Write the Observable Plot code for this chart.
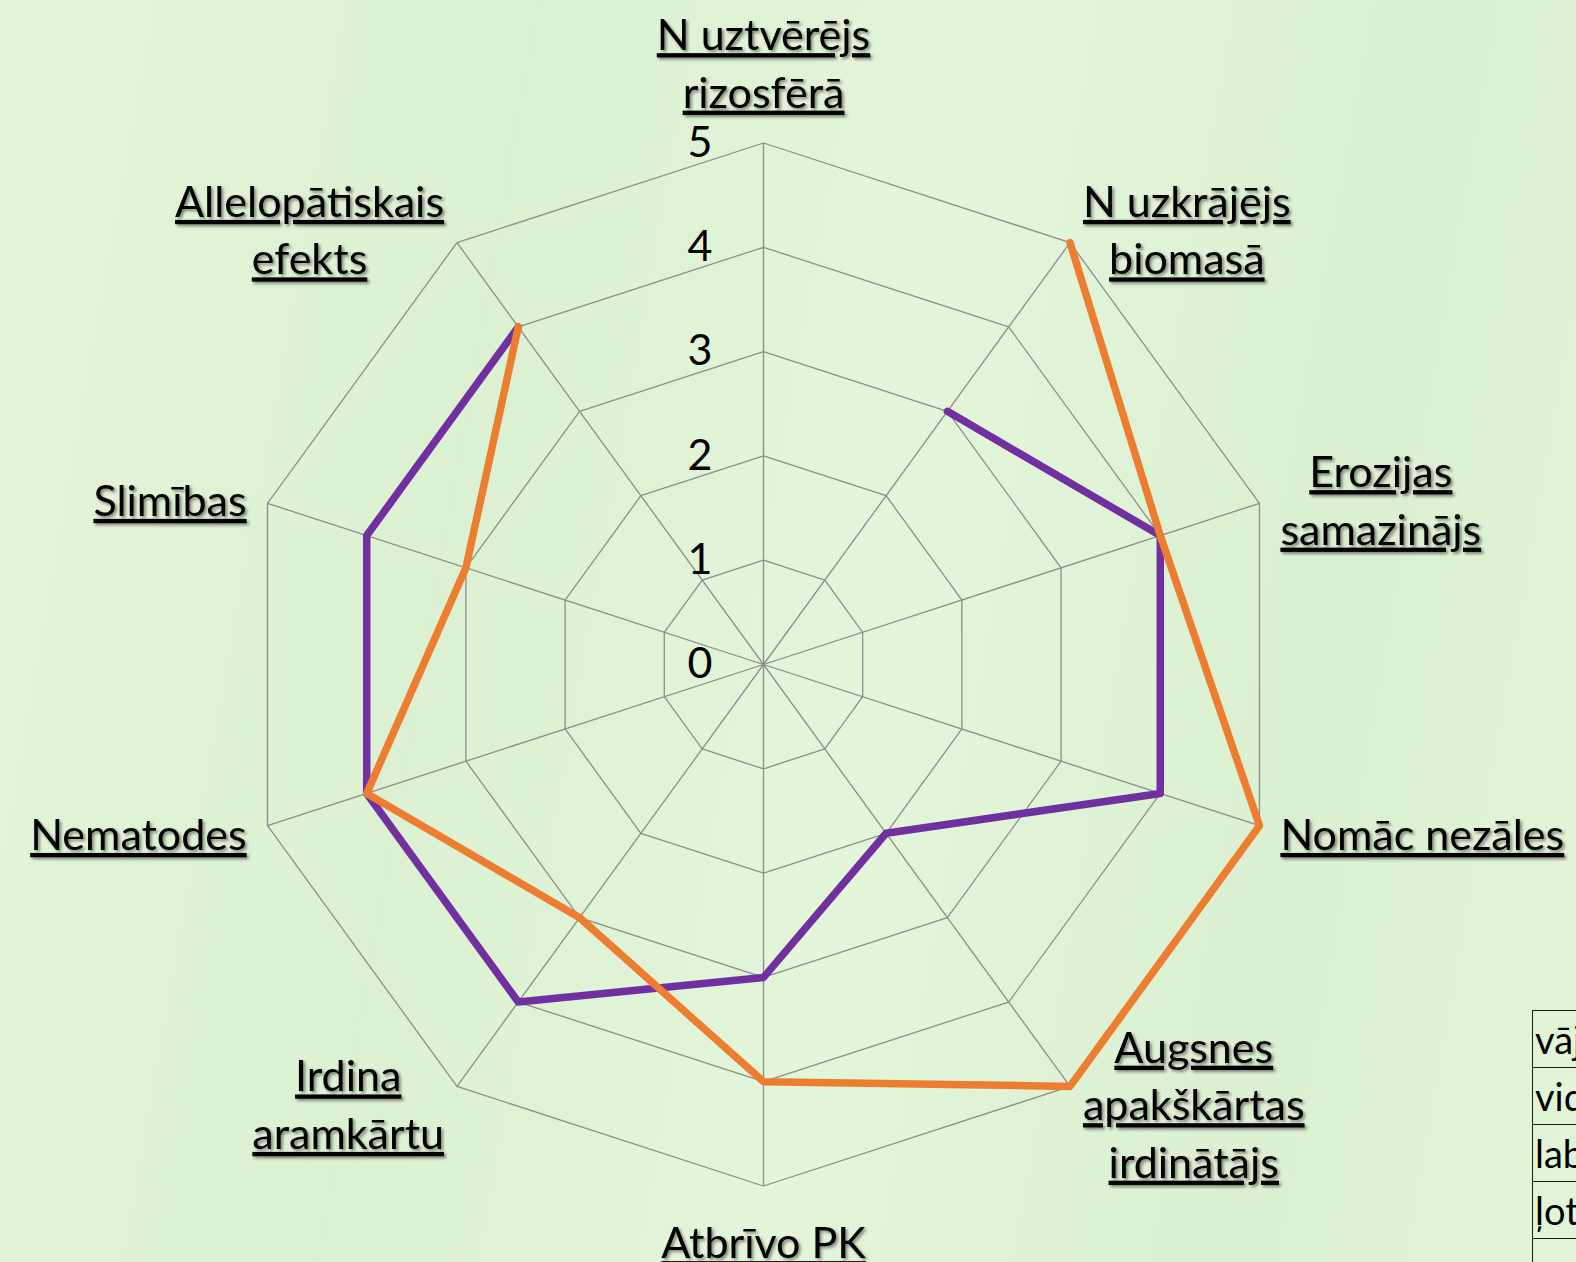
<!DOCTYPE html>
<html>
<head>
<meta charset="utf-8">
<script src="https://cdn.jsdelivr.net/npm/d3@7"></script>
<script src="https://cdn.jsdelivr.net/npm/@observablehq/plot@0.6"></script>
<style>
  html, body { margin: 0; padding: 0; overflow: hidden; background: #e1f4d6; }
  #wrap { position: relative; width: 1576px; height: 1262px; overflow: hidden;
          background: linear-gradient(100deg, #e3f6d8 0%, #dcf0d2 30%, #e3f6d9 55%, #dbefd1 80%, #e2f5d7 100%); }
  #chart svg { display: block; background: transparent; }
  #tbl { position: absolute; left: 1532px; top: 1010px; border-collapse: collapse;
         font-family: Lato, sans-serif; font-size: 38px; color: #000; }
  #tbl td { border: 1.5px solid #1a1a1a; height: 56px; padding: 0 0 0 2px; width: 260px; white-space: nowrap; line-height: 1; }
  .catlab { text-decoration: underline; text-decoration-thickness: 3px; text-underline-offset: 6px;
            filter: drop-shadow(2px 2.5px 1.5px rgba(0,0,0,0.45)); }
</style>
</head>
<body>
<div id="wrap">
  <div id="chart"></div>
  <table id="tbl"></table>
</div>
<script>
// ---- data ----
const categories = [
  "N uztvērējs\nrizosfērā",
  "N uzkrājējs\nbiomasā",
  "Erozijas\nsamazinājs",
  "Nomāc nezāles",
  "Augsnes\napakškārtas\nirdinātājs",
  "Atbrīvo PK",
  "Irdina\naramkārtu",
  "Nematodes",
  "Slimības",
  "Allelopātiskais\nefekts"
];
const purpleValues = [null, 3, 4, 4, 2, 3, 4, 4, 4, 4];
const orangeValues = [null, 5, 4, 5, 5, 4, 3, 4, 3, 4];
const tickValues = [0, 1, 2, 3, 4, 5];
const tableRows = ["vāji", "vidēji", "labi", "ļoti labi", ""];

// ---- layout ----
const W = 1576, H = 1262;
const CX = 763, CY = 664;      // centre in pixels
const K = 104.3;               // pixels per unit
const RMAX = 5;
const FS = 43, LH = 57.5;
const FONT = "Lato, 'Open Sans', sans-serif";
const LABEL_FILL = "#010101";
const n = categories.length;
const ang = i => (2 * Math.PI * i) / n;

// grid rings
const rings = [];
for (const r of tickValues.filter(t => t > 0))
  for (let i = 0; i <= n; i++) rings.push({r, x: r * Math.sin(ang(i % n)), y: r * Math.cos(ang(i % n))});
// spokes
const spokes = categories.map((c, i) => ({x2: RMAX * Math.sin(ang(i)), y2: RMAX * Math.cos(ang(i))}));

// series points
const toPts = (vals) => vals.map((v, i) => ({
  x: v == null ? NaN : v * Math.sin(ang(i)),
  y: v == null ? NaN : v * Math.cos(ang(i))
}));

// label placement (measured)
const ctx = document.createElement("canvas").getContext("2d");
ctx.font = `${FS}px Lato`;
const labels = categories.map((txt, i) => {
  const th = ang(i), s = Math.sin(th), c = Math.cos(th);
  const lines = txt.split("\n");
  const w = Math.max(...lines.map(l => ctx.measureText(l).width));
  const h = lines.length * LH;
  let px, py; // pixel offsets, y down
  if (Math.abs(s) < 0.2) { px = 0; py = c > 0 ? -(25 + h / 2) : (25 + h / 2); }
  else { px = Math.sign(s) * (22 * Math.abs(s) + w / 2); py = -19 * c; }
  return {text: txt, x: RMAX * s + px / K, y: RMAX * c - py / K};
});

const tickLabels = tickValues.map(t => ({t, x: -51 / K, y: t}));

const plot = Plot.plot({
  width: W, height: H,
  marginTop: 0, marginRight: 0, marginBottom: 0, marginLeft: 0,
  x: {domain: [-CX / K, (W - CX) / K], range: [0, W], axis: null},
  y: {domain: [-(H - CY) / K, CY / K], range: [H, 0], axis: null},
  style: {background: "transparent", overflow: "visible"},
  marks: [
    Plot.line(rings, {x: "x", y: "y", z: "r", stroke: "#8d8d8d", strokeWidth: 1.3}),
    Plot.link(spokes, {x1: 0, y1: 0, x2: "x2", y2: "y2", stroke: "#8d8d8d", strokeWidth: 1.3}),
    Plot.line(toPts(purpleValues), {x: "x", y: "y", stroke: "#7030a0", strokeWidth: 7.5,
      strokeLinejoin: "round", strokeLinecap: "round"}),
    Plot.line(toPts(orangeValues), {x: "x", y: "y", stroke: "#ed7d31", strokeWidth: 7.5,
      strokeLinejoin: "round", strokeLinecap: "round"}),
    Plot.text(tickLabels, {x: "x", y: "y", text: d => String(d.t), textAnchor: "end",
      fontSize: FS, fontFamily: FONT, fill: "#000"}),
    Plot.text(labels, {x: "x", y: "y", text: "text", textAnchor: "middle", lineAnchor: "middle",
      lineHeight: LH / FS, fontSize: FS, fontFamily: FONT, fill: LABEL_FILL})
  ]
});
document.getElementById("chart").appendChild(plot);

// style category labels: underline + drop shadow
d3.select(plot).selectAll("g")
  .filter(function() { return (this.getAttribute("fill") || "").toLowerCase() === LABEL_FILL; })
  .selectAll("text")
  .classed("catlab", true)
  .attr("text-decoration", "underline");

// table
const tbl = d3.select("#tbl");
tbl.selectAll("tr").data(tableRows).join("tr").append("td").text(d => d);
</script>
</body>
</html>
